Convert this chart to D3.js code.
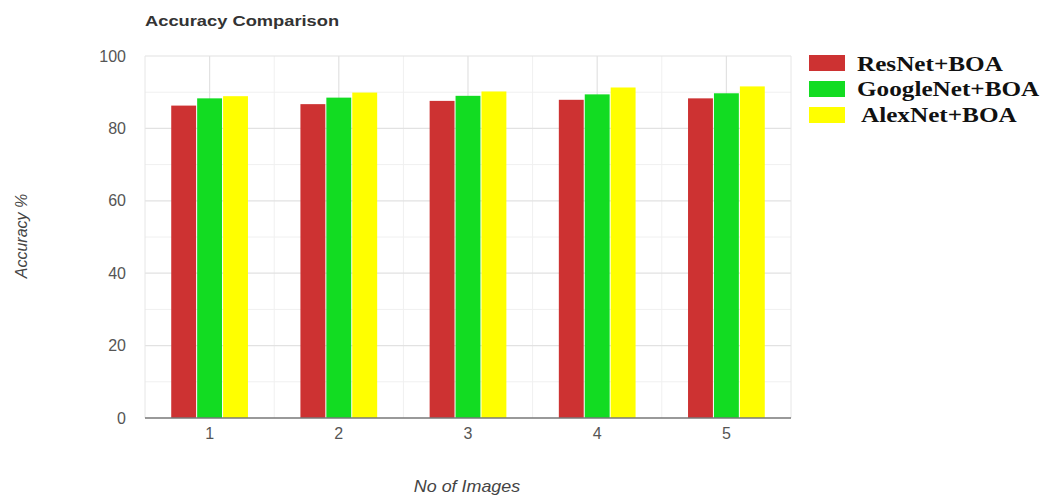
<!DOCTYPE html>
<html>
<head>
<meta charset="utf-8">
<script src="https://cdn.jsdelivr.net/npm/d3@7"></script>
<style>
  html, body { margin: 0; padding: 0; background: #fff; }
  svg { display: block; }
</style>
</head>
<body>
<svg id="chart" width="1043" height="497"></svg>
<script>
// Accuracy of each network, per number of images
const categories = ["1", "2", "3", "4", "5"];
const seriesNames = ["ResNet+BOA", "GoogleNet+BOA", "AlexNet+BOA"];
const resnet = [86.3, 86.7, 87.6, 87.9, 88.3];
const googlenet = [88.3, 88.5, 89.0, 89.4, 89.7];
const alexnet = [88.9, 89.9, 90.2, 91.3, 91.6];
const yTicks = [0, 20, 40, 60, 80, 100];
const seriesColors = ["#cd3232", "#12dc22", "#ffff00"];

const values = [resnet, googlenet, alexnet];

const svg = d3.select("#chart");
const plot = { left: 145, right: 791, top: 56, bottom: 418 };

const y = d3.scaleLinear().domain([0, 100]).range([plot.bottom, plot.top]);
const x0 = d3.scaleBand().domain(categories).range([plot.left, plot.right])
  .paddingInner(0.39).paddingOuter(0.195);
const x1 = d3.scaleBand().domain(seriesNames).range([0, x0.bandwidth()]).padding(0.04);

// Minor grid (every 10 on y, between categories on x)
const g = svg.append("g");
const minorY = d3.range(10, 100, 20);
g.selectAll("line.minor-y").data(minorY).join("line")
  .attr("x1", plot.left).attr("x2", plot.right)
  .attr("y1", d => y(d)).attr("y2", d => y(d))
  .attr("stroke", "#f0f0f0").attr("stroke-width", 1);
const step = x0.step();
const bounds = categories.slice(0, -1).map(c => x0(c) + x0.bandwidth() / 2 + step / 2);
g.selectAll("line.minor-x").data(bounds).join("line")
  .attr("x1", d => d).attr("x2", d => d)
  .attr("y1", plot.top).attr("y2", plot.bottom)
  .attr("stroke", "#f0f0f0").attr("stroke-width", 1);

// Major grid
g.selectAll("line.major-y").data(yTicks.filter(t => t > 0)).join("line")
  .attr("x1", plot.left).attr("x2", plot.right)
  .attr("y1", d => y(d)).attr("y2", d => y(d))
  .attr("stroke", "#e2e2e2").attr("stroke-width", 1.2);
g.selectAll("line.major-x").data(categories).join("line")
  .attr("x1", d => x0(d) + x0.bandwidth() / 2).attr("x2", d => x0(d) + x0.bandwidth() / 2)
  .attr("y1", plot.top).attr("y2", plot.bottom)
  .attr("stroke", "#e2e2e2").attr("stroke-width", 1.2);
// Plot frame edges
g.append("line").attr("x1", plot.left).attr("x2", plot.left)
  .attr("y1", plot.top).attr("y2", plot.bottom).attr("stroke", "#e6e6e6");
g.append("line").attr("x1", plot.right).attr("x2", plot.right)
  .attr("y1", plot.top).attr("y2", plot.bottom).attr("stroke", "#e6e6e6");

// Bars
const groups = svg.append("g").selectAll("g").data(categories).join("g")
  .attr("transform", d => `translate(${x0(d)},0)`);
groups.selectAll("rect").data((c, i) => seriesNames.map((s, k) => ({ s, k, v: values[k][i] })))
  .join("rect")
  .attr("x", d => x1(d.s))
  .attr("width", x1.bandwidth())
  .attr("y", d => y(d.v))
  .attr("height", d => y(0) - y(d.v))
  .attr("fill", d => seriesColors[d.k]);

// Baseline
svg.append("line").attr("x1", plot.left).attr("x2", plot.right)
  .attr("y1", y(0)).attr("y2", y(0))
  .attr("stroke", "#777").attr("stroke-width", 1.5);

// Axes (labels only)
const yAxis = d3.axisLeft(y).tickValues(yTicks).tickSize(0).tickPadding(19);
const ya = svg.append("g").attr("transform", `translate(${plot.left},0)`).call(yAxis);
ya.select(".domain").remove();
ya.selectAll("text").attr("fill", "#555").style("font", "16px 'Liberation Sans', Arial, sans-serif");

const xAxis = d3.axisBottom(x0).tickSize(0).tickPadding(10);
const xa = svg.append("g").attr("transform", `translate(0,${plot.bottom})`).call(xAxis);
xa.select(".domain").remove();
xa.selectAll("text").attr("fill", "#555").style("font", "16px 'Liberation Sans', Arial, sans-serif");

// Title
svg.append("text").attr("transform", "translate(145,25.5) scale(1.22,1)")
  .attr("fill", "#333").style("font", "bold 15px 'Liberation Sans', Arial, sans-serif")
  .text("Accuracy  Comparison");

// Axis titles
svg.append("text").attr("transform", "translate(27,236) rotate(-90)")
  .attr("text-anchor", "middle").attr("fill", "#444")
  .style("font", "italic 16px 'Liberation Sans', Arial, sans-serif")
  .text("Accuracy %");
svg.append("text").attr("transform", "translate(467,492) scale(1.12,1)")
  .attr("text-anchor", "middle").attr("fill", "#444")
  .style("font", "italic 16px 'Liberation Sans', Arial, sans-serif")
  .text("No of Images");

// Legend
const legend = svg.append("g").selectAll("g").data(seriesNames).join("g")
  .attr("transform", (d, i) => `translate(809,${55 + i * 26})`);
legend.append("rect").attr("width", 36).attr("height", 16)
  .attr("fill", (d, i) => seriesColors[i]);
legend.append("text")
  .attr("transform", (d, i) => `translate(${i === 2 ? 52 : 48},${i === 0 ? 15.5 : 15}) scale(1.2,1)`)
  .attr("fill", "#111")
  .style("font", "bold 21px 'Liberation Serif', 'Times New Roman', serif")
  .text(d => d);
</script>
</body>
</html>
